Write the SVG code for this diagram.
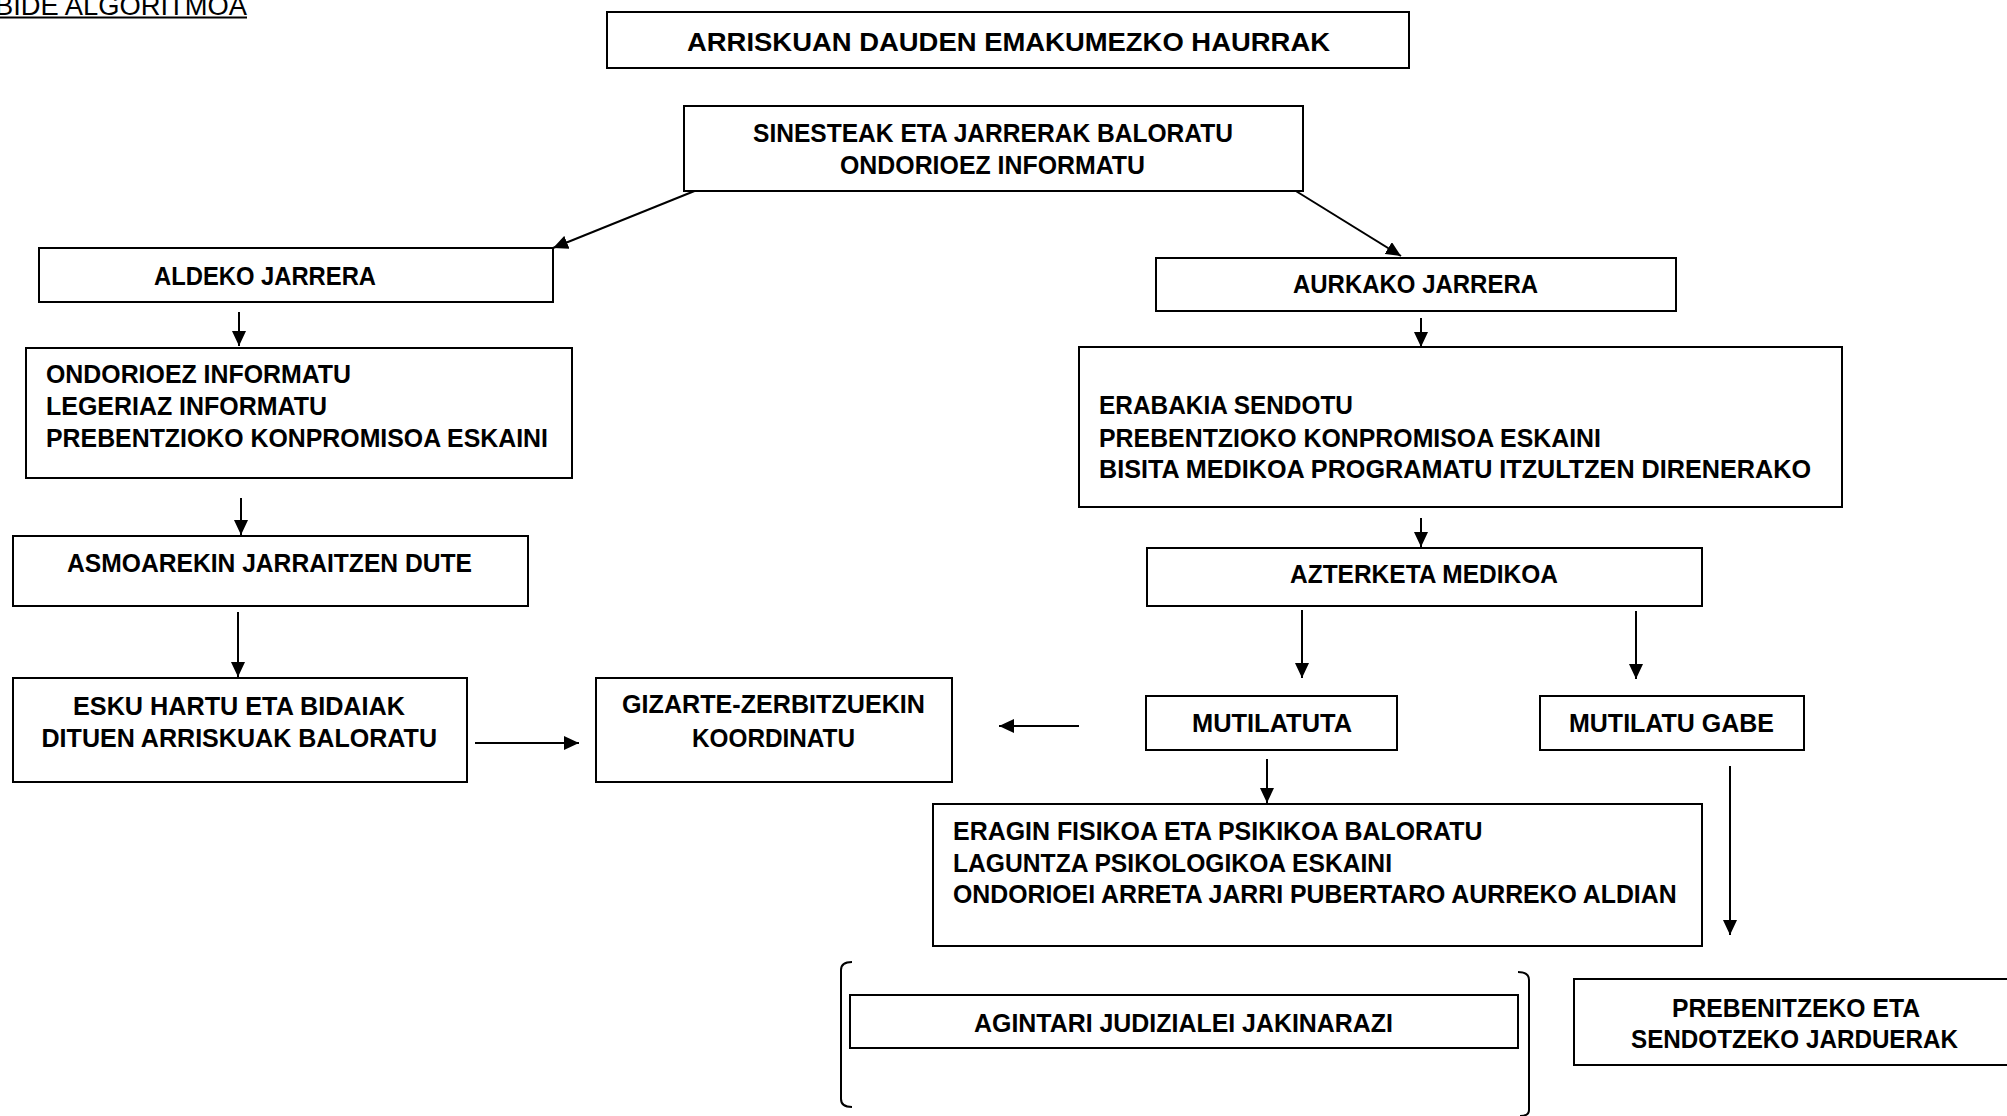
<svg xmlns="http://www.w3.org/2000/svg" width="2007" height="1116" viewBox="0 0 2007 1116">
<style>
.box{fill:#fff;stroke:#000;stroke-width:2}
.t{font-family:"Liberation Sans",Arial,sans-serif;font-weight:bold;font-size:26px;fill:#000}
.c{stroke:#000;stroke-width:2;fill:none}
.br{stroke:#000;stroke-width:2;fill:none}
</style>
<defs>
<marker id="ah" markerUnits="userSpaceOnUse" markerWidth="15" markerHeight="14" refX="15" refY="7" orient="auto">
<path d="M0,0 L15,7 L0,14 z" fill="#000"/>
</marker>
</defs>
<rect width="2007" height="1116" fill="#fff"/>
<g id="title">
<text x="-5" y="15" font-family="Liberation Sans,Arial,sans-serif" font-size="27" textLength="252" lengthAdjust="spacingAndGlyphs">BIDE ALGORITMOA</text>
<line x1="0" y1="17.5" x2="247" y2="17.5" stroke="#000" stroke-width="2"/>
</g>
<g id="connectors">
<line class="c" x1="697" y1="190" x2="553" y2="248" marker-end="url(#ah)"/>
<line class="c" x1="1291" y1="188" x2="1401" y2="256" marker-end="url(#ah)"/>
<line class="c" x1="239" y1="312" x2="239" y2="346" marker-end="url(#ah)"/>
<line class="c" x1="1421" y1="318" x2="1421" y2="347" marker-end="url(#ah)"/>
<line class="c" x1="241" y1="498" x2="241" y2="535" marker-end="url(#ah)"/>
<line class="c" x1="1421" y1="518" x2="1421" y2="547" marker-end="url(#ah)"/>
<line class="c" x1="238" y1="612" x2="238" y2="677" marker-end="url(#ah)"/>
<line class="c" x1="1302" y1="610" x2="1302" y2="678" marker-end="url(#ah)"/>
<line class="c" x1="1636" y1="611" x2="1636" y2="679" marker-end="url(#ah)"/>
<line class="c" x1="475" y1="743" x2="579" y2="743" marker-end="url(#ah)"/>
<line class="c" x1="1079" y1="726" x2="999" y2="726" marker-end="url(#ah)"/>
<line class="c" x1="1267" y1="759" x2="1267" y2="803" marker-end="url(#ah)"/>
<line class="c" x1="1730" y1="766" x2="1730" y2="935" marker-end="url(#ah)"/>
</g>
<g id="n_top">
<rect class="box" x="607" y="12" width="802" height="56"/>
<text class="t" x="687" y="51" font-size="27.5" textLength="643" lengthAdjust="spacingAndGlyphs">ARRISKUAN DAUDEN EMAKUMEZKO HAURRAK</text>
</g>
<g id="n_sinesteak">
<rect class="box" x="684" y="106" width="619" height="85"/>
<text class="t" x="753" y="142" textLength="480" lengthAdjust="spacingAndGlyphs">SINESTEAK ETA JARRERAK BALORATU</text>
<text class="t" x="840" y="174" textLength="305" lengthAdjust="spacingAndGlyphs">ONDORIOEZ INFORMATU</text>
</g>
<g id="n_aldeko">
<rect class="box" x="39" y="248" width="514" height="54"/>
<text class="t" x="154" y="285" textLength="222" lengthAdjust="spacingAndGlyphs">ALDEKO JARRERA</text>
</g>
<g id="n_aurkako">
<rect class="box" x="1156" y="258" width="520" height="53"/>
<text class="t" x="1293" y="293" textLength="245" lengthAdjust="spacingAndGlyphs">AURKAKO JARRERA</text>
</g>
<g id="n_ondorioez">
<rect class="box" x="26" y="348" width="546" height="130"/>
<text class="t" x="46" y="383" textLength="305" lengthAdjust="spacingAndGlyphs">ONDORIOEZ INFORMATU</text>
<text class="t" x="46" y="415" textLength="281" lengthAdjust="spacingAndGlyphs">LEGERIAZ INFORMATU</text>
<text class="t" x="46" y="447" textLength="502" lengthAdjust="spacingAndGlyphs">PREBENTZIOKO KONPROMISOA ESKAINI</text>
</g>
<g id="n_erabakia">
<rect class="box" x="1079" y="347" width="763" height="160"/>
<text class="t" x="1099" y="414" textLength="254" lengthAdjust="spacingAndGlyphs">ERABAKIA SENDOTU</text>
<text class="t" x="1099" y="447" textLength="502" lengthAdjust="spacingAndGlyphs">PREBENTZIOKO KONPROMISOA ESKAINI</text>
<text class="t" x="1099" y="478" textLength="712" lengthAdjust="spacingAndGlyphs">BISITA MEDIKOA PROGRAMATU ITZULTZEN DIRENERAKO</text>
</g>
<g id="n_asmoa">
<rect class="box" x="13" y="536" width="515" height="70"/>
<text class="t" x="67" y="572" textLength="405" lengthAdjust="spacingAndGlyphs">ASMOAREKIN JARRAITZEN DUTE</text>
</g>
<g id="n_azterketa">
<rect class="box" x="1147" y="548" width="555" height="58"/>
<text class="t" x="1290" y="583" textLength="268" lengthAdjust="spacingAndGlyphs">AZTERKETA MEDIKOA</text>
</g>
<g id="n_esku">
<rect class="box" x="13" y="678" width="454" height="104"/>
<text class="t" x="73" y="715" textLength="332" lengthAdjust="spacingAndGlyphs">ESKU HARTU ETA BIDAIAK</text>
<text class="t" x="41.5" y="747" textLength="395.5" lengthAdjust="spacingAndGlyphs">DITUEN ARRISKUAK BALORATU</text>
</g>
<g id="n_gizarte">
<rect class="box" x="596" y="678" width="356" height="104"/>
<text class="t" x="622" y="713" textLength="303" lengthAdjust="spacingAndGlyphs">GIZARTE-ZERBITZUEKIN</text>
<text class="t" x="692" y="747" textLength="163" lengthAdjust="spacingAndGlyphs">KOORDINATU</text>
</g>
<g id="n_mutilatuta">
<rect class="box" x="1146" y="696" width="251" height="54"/>
<text class="t" x="1192" y="732" textLength="160" lengthAdjust="spacingAndGlyphs">MUTILATUTA</text>
</g>
<g id="n_gabe">
<rect class="box" x="1540" y="696" width="264" height="54"/>
<text class="t" x="1569" y="732" textLength="205" lengthAdjust="spacingAndGlyphs">MUTILATU GABE</text>
</g>
<g id="n_eragin">
<rect class="box" x="933" y="804" width="769" height="142"/>
<text class="t" x="953" y="840" textLength="529.5" lengthAdjust="spacingAndGlyphs">ERAGIN FISIKOA ETA PSIKIKOA BALORATU</text>
<text class="t" x="953" y="872" textLength="439" lengthAdjust="spacingAndGlyphs">LAGUNTZA PSIKOLOGIKOA ESKAINI</text>
<text class="t" x="953" y="903" textLength="723.6" lengthAdjust="spacingAndGlyphs">ONDORIOEI ARRETA JARRI PUBERTARO AURREKO ALDIAN</text>
</g>
<g id="brackets">
<path class="br" d="M852,962 Q841,962 841,970 L841,1099 Q841,1107 852,1107"/>
<path class="br" d="M1518,972 Q1529,972 1529,980 L1529,1110 Q1529,1116 1520,1116"/>
</g>
<g id="n_agintari">
<rect class="box" x="850" y="995" width="668" height="53"/>
<text class="t" x="974" y="1032" textLength="419" lengthAdjust="spacingAndGlyphs">AGINTARI JUDIZIALEI JAKINARAZI</text>
</g>
<g id="n_prebenitzeko">
<rect class="box" x="1574" y="979" width="444" height="86"/>
<text class="t" x="1672" y="1017" textLength="248" lengthAdjust="spacingAndGlyphs">PREBENITZEKO ETA</text>
<text class="t" x="1631" y="1048" textLength="327" lengthAdjust="spacingAndGlyphs">SENDOTZEKO JARDUERAK</text>
</g>
</svg>
